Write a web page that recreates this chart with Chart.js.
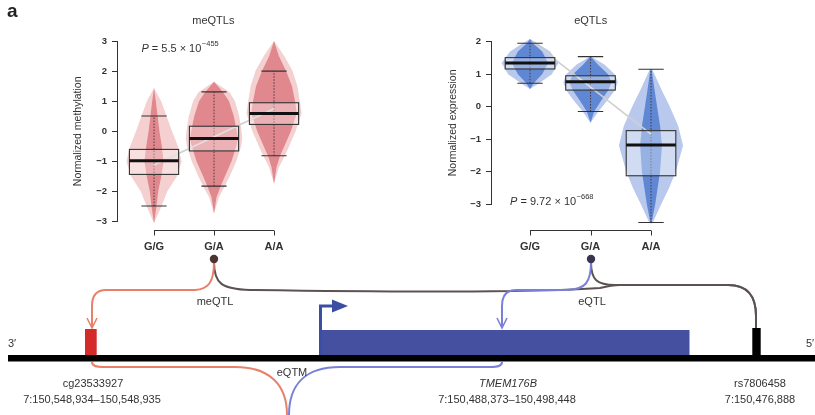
<!DOCTYPE html>
<html>
<head>
<meta charset="utf-8">
<script src="https://cdn.jsdelivr.net/npm/chart.js@4.4.1/dist/chart.umd.min.js"></script>
<style>
  html, body { margin:0; padding:0; background:#fff; width:815px; height:415px; overflow:hidden; }
  canvas { position:absolute; top:0; }
  #meChart { left:0; }
  #eChart { left:420px; }
  svg { position:absolute; left:0; top:0; pointer-events:none; }
  svg text { font-family:'Liberation Sans', Arial, Helvetica, sans-serif; fill:#333; }
</style>
</head>
<body>
<canvas id="meChart" width="330" height="262"></canvas>
<canvas id="eChart" width="300" height="262"></canvas>

<svg width="815" height="415" viewBox="0 0 815 415">
  <text x="7" y="17" style="font-size:19px;font-weight:bold;fill:#222">a</text>
  <!-- connectors from the genotype dots -->
  <path d="M214,262 C214,284 222,289 250,290 C420,292.5 540,292 600,288 C608,286 612,285 620,285 L728,285 C748,285 756,296 756,316 L756,329" fill="none" stroke="#5c5252" stroke-width="2"/>
  <path d="M591,262 C591,280 597,285 615,285 L728,285 C748,285 756,296 756,316 L756,329" fill="none" stroke="#5c5252" stroke-width="2"/>
  <path d="M214,262 C214,283 208,289 195,290 L106,290 C96,290 92,296 92,306 L92,327" fill="none" stroke="#e8806a" stroke-width="2"/>
  <polyline points="87,318 92,328 97,318" fill="none" stroke="#e8806a" stroke-width="1.6"/>
  <path d="M591,262 C591,283 585,289 568,290 L516,290 C506,290 502,296 502,306 L502,327" fill="none" stroke="#7a80d8" stroke-width="2"/>
  <polyline points="497,318 502,328 507,318" fill="none" stroke="#7a80d8" stroke-width="1.6"/>
  <circle cx="214" cy="259" r="4.2" fill="#4b3530"/>
  <circle cx="591" cy="259" r="4.2" fill="#3b3450"/>
  <text x="215" y="305" text-anchor="middle" style="font-size:11px">meQTL</text>
  <text x="592" y="305" text-anchor="middle" style="font-size:11px">eQTL</text>
  <!-- gene track -->
  <rect x="319.5" y="330" width="370" height="25" fill="#4650a0"/>
  <path d="M320.5,355 L320.5,306 L334,306" fill="none" stroke="#3b4ea3" stroke-width="3"/>
  <polygon points="332,299.5 348,306 332,312.5" fill="#3b4ea3"/>
  <rect x="85" y="329" width="11.7" height="27" fill="#d42a2a"/>
  <rect x="752.3" y="328" width="8.4" height="28" fill="#000"/>
  <rect x="8" y="355" width="807" height="6.5" fill="#000"/>
  <text x="8" y="347" style="font-size:11px">3′</text>
  <text x="806" y="347" style="font-size:11px">5′</text>
  <!-- eQTM brace -->
  <path d="M92,362 C92,366 96,367 104,367 L235,367 C270,367 287,385 287,415" fill="none" stroke="#e8806a" stroke-width="2"/>
  <path d="M502,362 C502,366 498,367 490,367 L340,367 C305,367 289,385 289,415" fill="none" stroke="#7a80d8" stroke-width="2"/>
  <text x="292" y="376" text-anchor="middle" style="font-size:11px">eQTM</text>
  <text x="93" y="387" text-anchor="middle" style="font-size:11px">cg23533927</text>
  <text x="92" y="403" text-anchor="middle" style="font-size:11px">7:150,548,934–150,548,935</text>
  <text x="508" y="387" text-anchor="middle" style="font-size:11px;font-style:italic">TMEM176B</text>
  <text x="507" y="403" text-anchor="middle" style="font-size:11px">7:150,488,373–150,498,448</text>
  <text x="760" y="387" text-anchor="middle" style="font-size:11px">rs7806458</text>
  <text x="760" y="403" text-anchor="middle" style="font-size:11px">7:150,476,888</text>
</svg>

<script>
const FONT = "'Liberation Sans', Arial, Helvetica, sans-serif";
const genotypes = ['G/G', 'G/A', 'A/A'];

// ---- meQTL (methylation) ----
const meMedian      = [-0.98, -0.24, 0.59];
const meQ1          = [-1.43, -0.65, 0.23];
const meQ3          = [-0.60,  0.17, 0.95];
const meWhiskerLow  = [-2.48, -1.82, -0.81];
const meWhiskerHigh = [ 0.51,  1.31, 2.00];
const meTrend       = [-1.12, 0.75];   // fitted line at G/G and A/A
const meYTicks      = [-3, -2, -1, 0, 1, 2, 3];
const meViolinLevels = [
  [1.44, 1.0, 0.5, 0, -0.5, -1.0, -1.5, -2.0, -2.5, -3.05],
  [1.65, 1.3, 1.0, 0.5, 0, -0.25, -0.5, -1.0, -1.5, -1.82, -2.2, -2.73],
  [3.0, 2.5, 2.0, 1.5, 1.0, 0.6, 0, -0.5, -0.81, -1.2, -1.74]
];
const meViolinDensity = [
  [0, 0.12, 0.21, 0.30, 0.40, 0.46, 0.38, 0.22, 0.12, 0],
  [0, 0.26, 0.35, 0.42, 0.46, 0.47, 0.45, 0.37, 0.26, 0.18, 0.08, 0],
  [0, 0.17, 0.31, 0.39, 0.43, 0.46, 0.36, 0.25, 0.18, 0.08, 0]
];
const meCoreDensity = [
  [0, 0.03, 0.06, 0.09, 0.13, 0.16, 0.12, 0.07, 0.04, 0],
  [0, 0.15, 0.25, 0.33, 0.38, 0.40, 0.37, 0.29, 0.18, 0.11, 0.04, 0],
  [0, 0.08, 0.20, 0.30, 0.35, 0.38, 0.28, 0.17, 0.10, 0.04, 0]
];

// ---- eQTL (expression) ----
const eMedian      = [1.34, 0.77, -1.18];
const eQ1          = [1.16, 0.51, -2.13];
const eQ3          = [1.51, 0.95, -0.74];
const eWhiskerLow  = [0.72, -0.15, -3.57];
const eWhiskerHigh = [1.95, 1.54, 1.15];
const eTrend       = [2.05, -0.85];
const eYTicks      = [-3, -2, -1, 0, 1, 2];
const eViolinLevels = [
  [2.08, 1.95, 1.7, 1.34, 1.0, 0.72, 0.54],
  [1.55, 1.3, 1.0, 0.75, 0.5, 0.2, -0.15, -0.5],
  [1.15, 0.5, 0, -0.6, -1.2, -2.0, -2.5, -3.0, -3.57, -3.6]
];
const eViolinDensity = [
  [0, 0.12, 0.33, 0.47, 0.36, 0.15, 0],
  [0, 0.23, 0.40, 0.45, 0.40, 0.28, 0.13, 0],
  [0.02, 0.18, 0.31, 0.45, 0.53, 0.41, 0.30, 0.17, 0.03, 0]
];
const eCoreDensity = [
  [0, 0.05, 0.20, 0.30, 0.20, 0.06, 0],
  [0, 0.12, 0.29, 0.35, 0.29, 0.18, 0.06, 0],
  [0.01, 0.06, 0.10, 0.15, 0.18, 0.15, 0.11, 0.07, 0.01, 0]
];

const statsById = {
  meChart: {
    median: meMedian, q1: meQ1, q3: meQ3, wLow: meWhiskerLow, wHigh: meWhiskerHigh,
    levels: meViolinLevels, density: meViolinDensity, core: meCoreDensity,
    outer: 'rgb(244,208,208)', coreColor: 'rgba(222,128,133,0.9)',
    pText: { x: -0.21, y: 2.72, mant: '5.5', exp: '−455' }
  },
  eChart: {
    median: eMedian, q1: eQ1, q3: eQ3, wLow: eWhiskerLow, wHigh: eWhiskerHigh,
    levels: eViolinLevels, density: eViolinDensity, core: eCoreDensity,
    outer: 'rgb(185,201,237)', coreColor: 'rgba(85,128,208,0.9)',
    pText: { x: -0.33, y: -2.93, mant: '9.72', exp: '−668' }
  }
};

function violinPath(ctx, xs, ys, cx, levels, widths) {
  ctx.beginPath();
  for (let i = 0; i < levels.length; i++) {
    const px = xs.getPixelForValue(cx + widths[i]);
    const py = ys.getPixelForValue(levels[i]);
    if (i === 0) ctx.moveTo(px, py); else ctx.lineTo(px, py);
  }
  for (let i = levels.length - 1; i >= 0; i--) {
    ctx.lineTo(xs.getPixelForValue(cx - widths[i]), ys.getPixelForValue(levels[i]));
  }
  ctx.closePath();
}

const violinPlugin = {
  id: 'violins',
  beforeDatasetsDraw(chart) {
    const st = statsById[chart.canvas.id];
    const ctx = chart.ctx, xs = chart.scales.x, ys = chart.scales.y;
    ctx.save();
    for (let g = 0; g < 3; g++) {
      violinPath(ctx, xs, ys, g, st.levels[g], st.density[g]);
      ctx.fillStyle = st.outer; ctx.fill();
      violinPath(ctx, xs, ys, g, st.levels[g], st.core[g]);
      ctx.fillStyle = st.coreColor; ctx.fill();
      // dotted whisker line
      const cx = xs.getPixelForValue(g);
      ctx.beginPath();
      ctx.setLineDash([1.5, 1.5]);
      ctx.strokeStyle = '#4a3a3a'; ctx.lineWidth = 1;
      ctx.moveTo(cx, ys.getPixelForValue(st.wLow[g]));
      ctx.lineTo(cx, ys.getPixelForValue(st.wHigh[g]));
      ctx.stroke();
      ctx.setLineDash([]);
    }
    ctx.restore();
  },
  afterDatasetsDraw(chart) {
    const st = statsById[chart.canvas.id];
    const ctx = chart.ctx, xs = chart.scales.x, ys = chart.scales.y;
    ctx.save();
    for (let g = 0; g < 3; g++) {
      const l = xs.getPixelForValue(g - 0.41), r = xs.getPixelForValue(g + 0.41);
      const cl = xs.getPixelForValue(g - 0.21), cr = xs.getPixelForValue(g + 0.21);
      const top = ys.getPixelForValue(st.q3[g]), bot = ys.getPixelForValue(st.q1[g]);
      ctx.fillStyle = 'rgba(255,255,255,0.35)';
      ctx.fillRect(l, top, r - l, bot - top);
      ctx.strokeStyle = '#333'; ctx.lineWidth = 1.1;
      ctx.strokeRect(l, top, r - l, bot - top);
      // caps
      ctx.beginPath();
      [st.wLow[g], st.wHigh[g]].forEach(v => {
        const y = ys.getPixelForValue(v);
        ctx.moveTo(cl, y); ctx.lineTo(cr, y);
      });
      ctx.stroke();
      // median
      ctx.beginPath();
      ctx.strokeStyle = '#111'; ctx.lineWidth = 3;
      const my = ys.getPixelForValue(st.median[g]);
      ctx.moveTo(l, my); ctx.lineTo(r, my);
      ctx.stroke();
    }
    // x axis bracket (R style)
    const x0 = xs.getPixelForValue(0), x2 = xs.getPixelForValue(2);
    const by = 230.5;
    ctx.beginPath();
    ctx.strokeStyle = '#333'; ctx.lineWidth = 1;
    ctx.moveTo(x0, by); ctx.lineTo(x2, by);
    for (let g = 0; g < 3; g++) {
      const x = Math.round(xs.getPixelForValue(g)) + 0.5;
      ctx.moveTo(x, by); ctx.lineTo(x, by + 5);
    }
    ctx.stroke();
    // P value annotation
    const p = st.pText;
    let px = xs.getPixelForValue(p.x), py = ys.getPixelForValue(p.y);
    ctx.fillStyle = '#333';
    ctx.textBaseline = 'middle'; ctx.textAlign = 'left';
    ctx.font = 'italic 11px ' + FONT;
    ctx.fillText('P', px, py);
    px += ctx.measureText('P').width;
    ctx.font = '11px ' + FONT;
    const body = ' = ' + p.mant + ' × 10';
    ctx.fillText(body, px, py);
    px += ctx.measureText(body).width;
    ctx.font = '7.5px ' + FONT;
    ctx.fillText(p.exp, px + 0.5, py - 5);
    ctx.restore();
  }
};

function makeChart(id, cfg) {
  return new Chart(document.getElementById(id), {
    type: 'scatter',
    data: {
      datasets: [{
        data: [{ x: 0, y: cfg.trend[0] }, { x: 2, y: cfg.trend[1] }],
        showLine: true, borderColor: '#cfcfcf', borderWidth: 1.6, pointRadius: 0
      }]
    },
    options: {
      responsive: false, animation: false, devicePixelRatio: 1,
      layout: { padding: { left: cfg.padLeft, right: cfg.padRight, top: 0, bottom: 0 } },
      plugins: {
        legend: { display: false }, tooltip: { enabled: false },
        title: {
          display: true, text: cfg.title, fullSize: false, color: '#333',
          font: { family: FONT, size: 11, weight: 'normal' },
          padding: { top: 14, bottom: cfg.titleBottom }
        }
      },
      scales: {
        x: {
          type: 'linear', min: cfg.xMin, max: cfg.xMax,
          grid: { display: false }, border: { display: false },
          afterBuildTicks: s => { s.ticks = genotypes.map((g, i) => ({ value: i })); },
          ticks: {
            callback: v => genotypes[v], autoSkip: false, maxRotation: 0,
            font: { family: FONT, size: 11, weight: 'bold' }, color: '#333', padding: cfg.xLabelPad
          },
          afterFit: s => { s.height = cfg.xAxisHeight; }
        },
        y: {
          min: cfg.yMin, max: cfg.yMax,
          grid: { display: true, drawOnChartArea: false, drawTicks: true, tickLength: 5, color: '#333' },
          border: { display: true, color: '#333', width: 1 },
          afterBuildTicks: s => { s.ticks = cfg.yTicks.map(v => ({ value: v })); },
          ticks: {
            callback: v => String(v).replace('-', '−'),
            font: { family: FONT, size: 9.5, weight: 'bold' }, color: '#333', padding: 5
          },
          title: {
            display: true, text: cfg.yTitle, color: '#333',
            font: { family: FONT, size: 10.5 }, padding: { top: cfg.yTitlePad, bottom: 0 }
          },
          afterFit: s => { s.width = cfg.yAxisWidth; }
        }
      }
    },
    plugins: [violinPlugin]
  });
}

makeChart('meChart', {
  title: 'meQTLs', yTitle: 'Normalized methylation', trend: meTrend, yTicks: meYTicks,
  padLeft: 60, padRight: 20.4, yAxisWidth: 57, yTitlePad: 11.7,
  titleBottom: 13.8, xAxisHeight: 40.3, xLabelPad: 10.5,
  xMin: -0.617, xMax: 2.593, yMin: -3, yMax: 3
});
makeChart('eChart', {
  title: 'eQTLs', yTitle: 'Normalized expression', trend: eTrend, yTicks: eYTicks,
  padLeft: 0, padRight: 29.6, yAxisWidth: 71, yTitlePad: 26.7,
  titleBottom: 14.5, xAxisHeight: 58, xLabelPad: 28.5,
  xMin: -0.645, xMax: 2.651, yMin: -3, yMax: 2
});
</script>
</body>
</html>
